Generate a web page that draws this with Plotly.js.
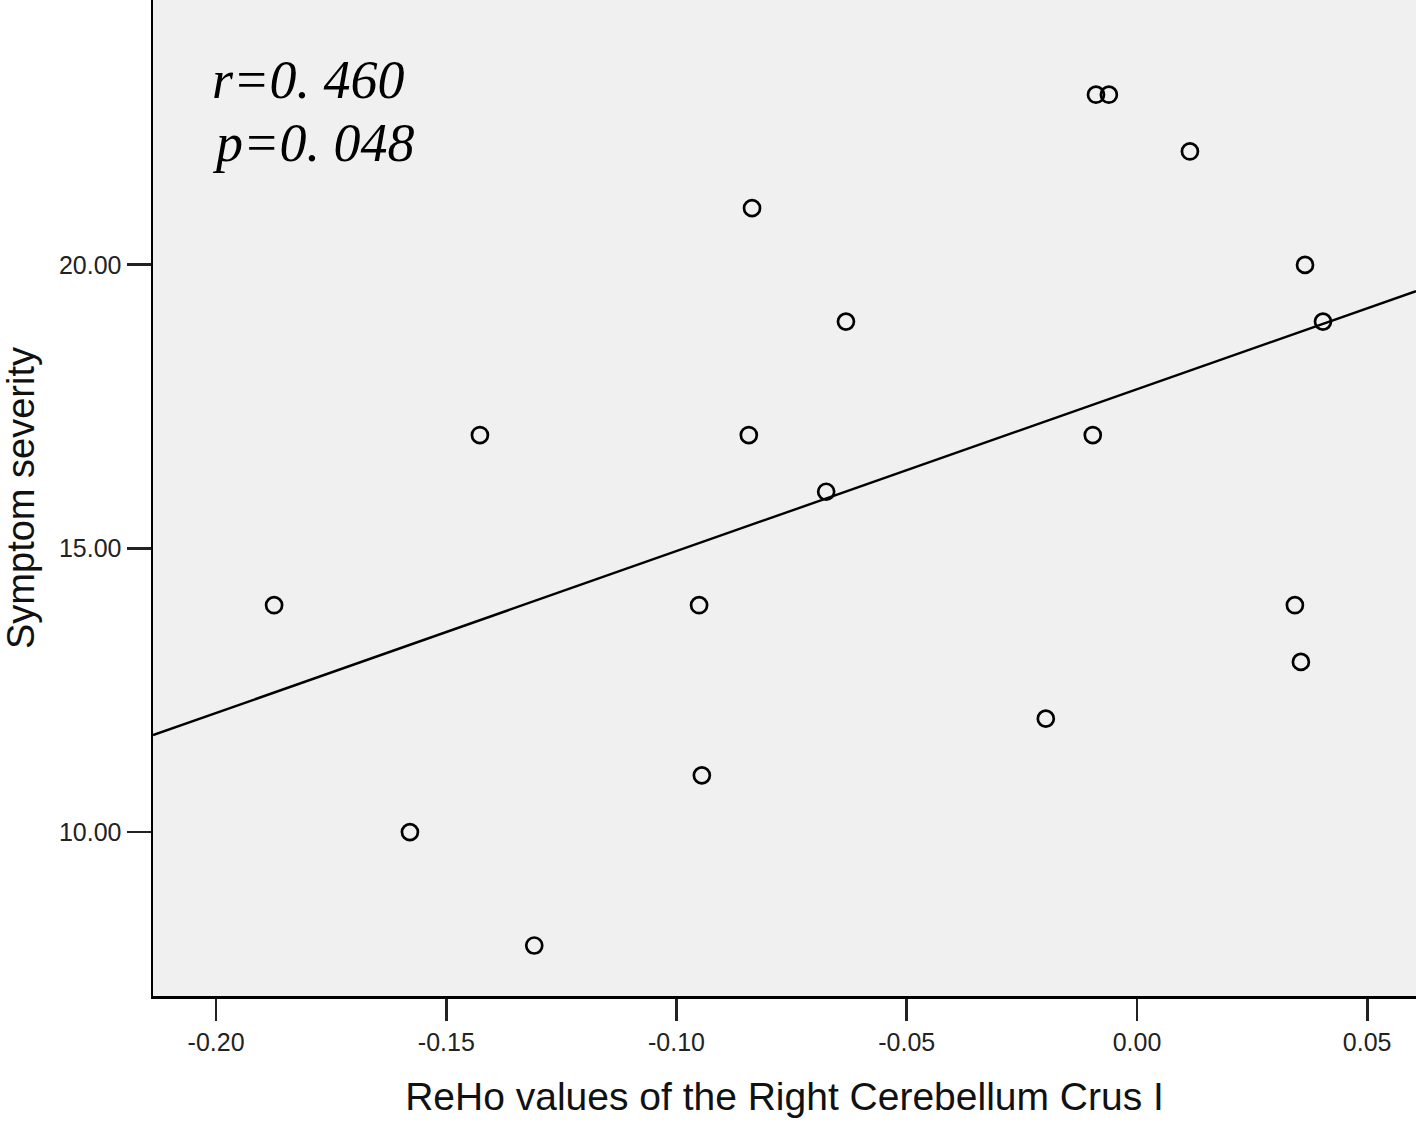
<!DOCTYPE html>
<html>
<head>
<meta charset="utf-8">
<script src="https://cdn.plot.ly/plotly-3.0.1.min.js"></script>
<style>html,body{margin:0;padding:0;background:#fff;}#chart{width:1418px;height:1123px;}</style>
</head>
<body>
<div id="chart"></div>
<script>
// ReHo values (x) and symptom severity (y)
const rehoValues = [-0.1874, -0.1579, -0.1427, -0.1309, -0.0951, -0.0945, -0.0843, -0.0836, -0.0675, -0.0632,
                    -0.0198, -0.0096, -0.0089, -0.0061, 0.0115, 0.0343, 0.0356, 0.0365, 0.0404];
const severity   = [14, 10, 17, 8, 14, 11, 17, 21, 16, 19,
                    12, 17, 23, 23, 22, 14, 13, 20, 19];
const xTickVals = [-0.20, -0.15, -0.10, -0.05, 0.00, 0.05];
const xTickText = ["-0.20", "-0.15", "-0.10", "-0.05", "0.00", "0.05"];
const yTickVals = [10, 15, 20];
const yTickText = ["10.00", "15.00", "20.00"];
const statLines = ["r=0. 460", "p=0. 048"];
const xRange = [-0.2137, 0.0606];
const yRange = [7.11, 24.67];

// least-squares fit line
const n = rehoValues.length;
const mx = rehoValues.reduce((a,b)=>a+b,0)/n;
const my = severity.reduce((a,b)=>a+b,0)/n;
let sxy = 0, sxx = 0;
for (let i = 0; i < n; i++) { sxy += (rehoValues[i]-mx)*(severity[i]-my); sxx += (rehoValues[i]-mx)**2; }
const slope = sxy/sxx, intercept = my - slope*mx;
const fitX = [xRange[0], xRange[1]];
const fitY = fitX.map(v => intercept + slope*v);

const traces = [
  {x: fitX, y: fitY, mode: 'lines', line: {color: '#000', width: 2.4}, hoverinfo: 'skip', showlegend: false},
  {x: rehoValues, y: severity, mode: 'markers', type: 'scatter',
   marker: {symbol: 'circle-open', size: 16, color: '#000', line: {width: 2.7, color: '#000'}}, showlegend: false}
];

const layout = {
  width: 1418, height: 1123,
  margin: {l: 153, r: 2, t: 0, b: 127},
  paper_bgcolor: '#ffffff', plot_bgcolor: '#f0f0f0',
  font: {family: 'Liberation Sans, Arial, sans-serif', color: '#111'},
  xaxis: {
    range: xRange, tickvals: xTickVals, ticktext: xTickText,
    showgrid: false, zeroline: false, showline: true, linecolor: '#000', linewidth: 2.5,
    ticks: 'outside', ticklen: 22, tickwidth: 2.8, tickcolor: '#222',
    tickfont: {size: 25, color: '#222'},
    title: {text: 'ReHo values of the Right Cerebellum Crus I', font: {size: 39, color: '#111'}, standoff: 28}
  },
  yaxis: {
    range: yRange, tickvals: yTickVals, ticktext: yTickText,
    showgrid: false, zeroline: false, showline: true, linecolor: '#000', linewidth: 2.5,
    ticks: 'outside', ticklen: 24, tickwidth: 2.8, tickcolor: '#222',
    tickfont: {size: 25, color: '#222'},
    title: {text: 'Symptom severity', font: {size: 38, color: '#111'}, standoff: 16}
  },
  annotations: statLines.map((t, i) => ({
    text: t, xref: 'paper', yref: 'paper', x: 0.0455, y: 0.92 - i*0.0635,
    xanchor: 'left', yanchor: 'middle', showarrow: false,
    font: {family: 'Liberation Serif, Times New Roman, serif', size: 54, color: '#000', style: 'italic'}
  }))
};

Plotly.newPlot('chart', traces, layout, {displayModeBar: false, staticPlot: true});
</script>
</body>
</html>
